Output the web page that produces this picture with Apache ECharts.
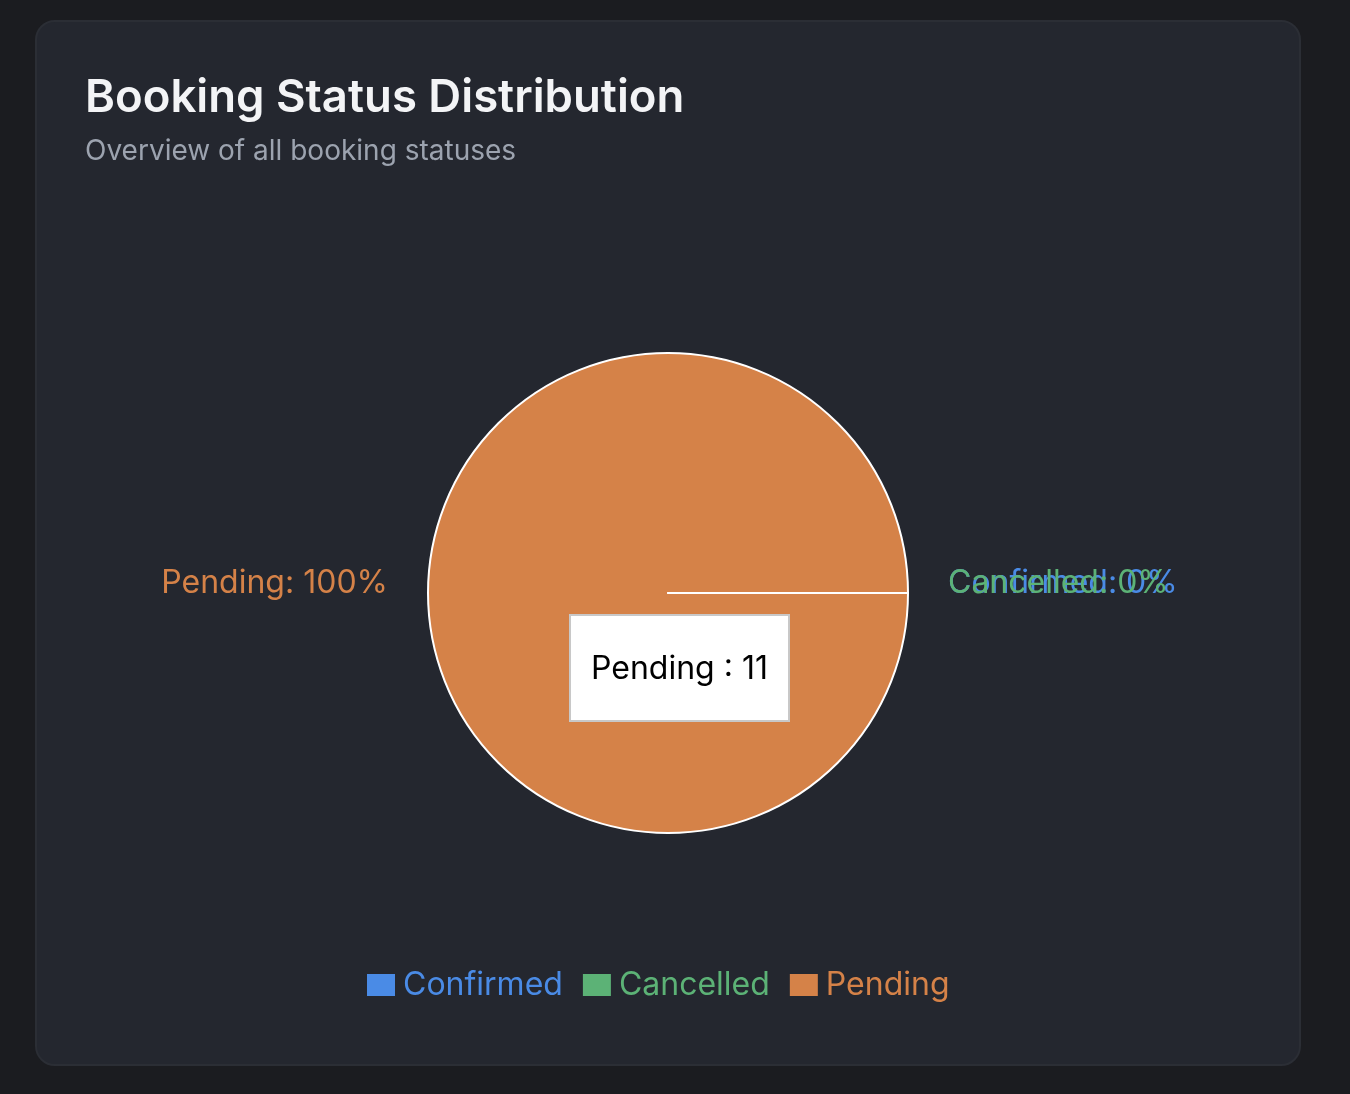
<!DOCTYPE html>
<html>
<head>
<meta charset="utf-8">
<script src="https://cdn.jsdelivr.net/npm/echarts@6/dist/echarts.min.js"></script>
<style>
  html, body { margin: 0; padding: 0; background: #1b1c20; width: 1350px; height: 1094px; overflow: hidden; }
  #card { position: absolute; left: 35px; top: 20px; width: 1262px; height: 1042px; background: #24272f; border: 2px solid #2b2e35; border-radius: 20px; }
  #chart { position: absolute; left: 0; top: 0; width: 1262px; height: 1042px; }
</style>
</head>
<body>
<div id="card"><div id="chart"></div></div>
<script>
const titleText = 'Booking Status Distribution';
const subtitleText = 'Overview of all booking statuses';
const categories = ['Confirmed', 'Cancelled', 'Pending'];
const counts = [0, 0, 11];
const colors = ['#4a8be6', '#5cb276', '#d58248'];
// drawing order of the slices in the series (legend keeps category order)
const seriesOrder = ['Pending', 'Confirmed', 'Cancelled'];

const chart = echarts.init(document.getElementById('chart'), null, { renderer: 'canvas' });
const data = seriesOrder.map(name => {
  const i = categories.indexOf(name);
  return {
    name: name,
    value: counts[i],
    itemStyle: { color: colors[i] },
    label: { color: colors[i] }
  };
});

chart.setOption({
  animation: false,
  backgroundColor: 'transparent',
  title: {
    text: titleText,
    subtext: subtitleText,
    left: 43,
    top: 48,
    itemGap: 17,
    textStyle: { color: '#f3f4f6', fontSize: 45.5, fontWeight: 600, fontFamily: 'Inter' },
    subtextStyle: { color: '#9ca3af', fontSize: 28, fontFamily: 'Inter' }
  },
  tooltip: {
    trigger: 'item',
    triggerOn: 'none',
    alwaysShowContent: true,
    transitionDuration: 0,
    formatter: '{b} : {c}',
    backgroundColor: '#ffffff',
    borderColor: '#c8c8c8',
    borderWidth: 2,
    padding: [28, 20],
    textStyle: { color: '#000000', fontSize: 32, fontFamily: 'Inter' },
    extraCssText: 'border-radius:0;box-shadow:none;',
    position: function () { return [532, 592]; }
  },
  legend: {
    bottom: 58,
    left: 325,
    itemWidth: 28,
    itemHeight: 22,
    itemGap: 20,
    icon: 'rect',
    data: categories,
    itemStyle: { borderWidth: 0 },
    textStyle: { fontSize: 32, fontFamily: 'Inter', color: 'inherit', padding: [0, 0, 0, 3] }
  },
  series: [{
    type: 'pie',
    radius: 240,
    center: [631, 571],
    startAngle: 0,
    avoidLabelOverlap: false,
    labelLayout: { hideOverlap: false },
    data: data,
    itemStyle: { borderColor: '#ffffff', borderWidth: 2 },
    label: {
      show: true,
      position: 'outside',
      formatter: '{t|{b}: {d}%}',
      fontSize: 32,
      fontFamily: 'Inter',
      rich: { t: { fontSize: 32, fontFamily: 'Inter', padding: [0, 0, 20, 0] } },
      distanceToLabelLine: 5
    },
    labelLine: { show: false, length: 15, length2: 20 },
    emphasis: { scale: false }
  }]
});
chart.dispatchAction({ type: 'showTip', seriesIndex: 0, dataIndex: 0 });
</script>
</body>
</html>
